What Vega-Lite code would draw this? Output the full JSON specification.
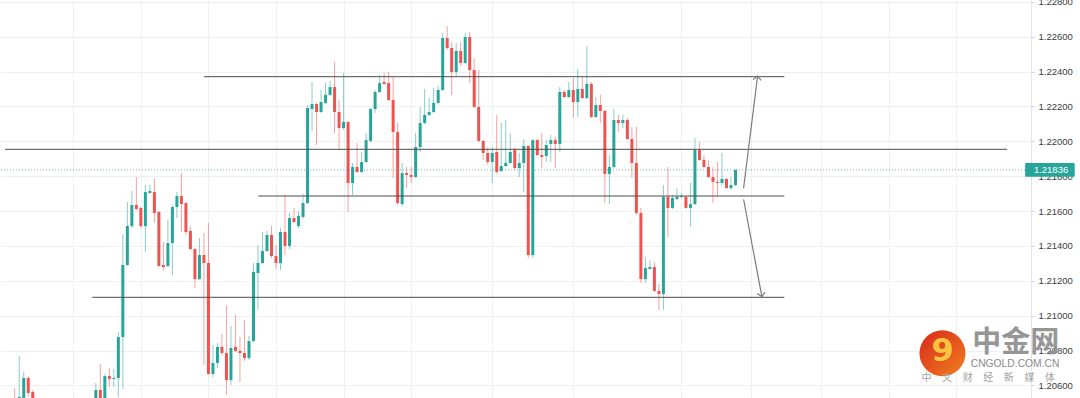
{
  "$schema": "https://vega.github.io/schema/vega-lite/v6.json",
  "width": 1031,
  "height": 398,
  "autosize": {"type": "none"},
  "padding": {"left": 0, "top": 0, "right": 49, "bottom": 0},
  "background": "white",
  "config": {
    "view": {"stroke": null},
    "axisX": {"grid": true, "gridColor": "#eef0f4", "gridWidth": 1, "labels": false, "ticks": false, "domain": false, "title": null},
    "axisY": {"grid": true, "gridColor": "#eef0f4", "labelFont": "Liberation Sans", "labelFontSize": 9.5, "labelColor": "#3b3b3b", "tickSize": 3, "tickColor": "#cfd2d9", "domain": true, "domainColor": "#e0e3eb", "labelPadding": 4, "title": null}
  },
  "datasets": {
    "candles": [
      {"t":-20,"o":1.20459,"h":1.20517,"l":1.20448,"c":1.20494},
      {"t":-19,"o":1.20494,"h":1.20522,"l":1.20482,"c":1.20517},
      {"t":-18,"o":1.20522,"h":1.20585,"l":1.20459,"c":1.20488},
      {"t":-17,"o":1.20459,"h":1.20769,"l":1.20448,"c":1.20534},
      {"t":-16,"o":1.20528,"h":1.20677,"l":1.20517,"c":1.20643},
      {"t":-15,"o":1.20643,"h":1.20654,"l":1.20534,"c":1.20557},
      {"t":-14,"o":1.20562,"h":1.20574,"l":1.20488,"c":1.20505},
      {"t":-13,"o":1.20505,"h":1.20517,"l":1.20448,"c":1.20471},
      {"t":-12,"o":1.20471,"h":1.20511,"l":1.20442,"c":1.20494},
      {"t":-11,"o":1.20494,"h":1.20505,"l":1.20431,"c":1.20459},
      {"t":-10,"o":1.20459,"h":1.20488,"l":1.20414,"c":1.20436},
      {"t":-9,"o":1.20436,"h":1.20499,"l":1.20425,"c":1.20482},
      {"t":-8,"o":1.20482,"h":1.20517,"l":1.20465,"c":1.20499},
      {"t":-7,"o":1.20499,"h":1.20511,"l":1.20448,"c":1.20465},
      {"t":-6,"o":1.20465,"h":1.20505,"l":1.20454,"c":1.20488},
      {"t":-5,"o":1.20488,"h":1.20522,"l":1.20471,"c":1.20511},
      {"t":-4,"o":1.20511,"h":1.20517,"l":1.20459,"c":1.20482},
      {"t":-3,"o":1.20482,"h":1.20522,"l":1.20471,"c":1.20505},
      {"t":-2,"o":1.20505,"h":1.20522,"l":1.20465,"c":1.20488},
      {"t":-1,"o":1.20488,"h":1.20522,"l":1.20476,"c":1.20517},
      {"t":0,"o":1.20522,"h":1.20614,"l":1.20517,"c":1.20574},
      {"t":1,"o":1.20574,"h":1.20723,"l":1.20511,"c":1.20522},
      {"t":2,"o":1.20528,"h":1.20666,"l":1.20517,"c":1.20654},
      {"t":3,"o":1.20654,"h":1.20700,"l":1.20591,"c":1.20637},
      {"t":4,"o":1.20637,"h":1.20694,"l":1.20591,"c":1.20643},
      {"t":5,"o":1.20643,"h":1.20907,"l":1.20534,"c":1.20878},
      {"t":6,"o":1.20878,"h":1.21468,"l":1.20580,"c":1.21291},
      {"t":7,"o":1.21291,"h":1.21652,"l":1.21285,"c":1.21514},
      {"t":8,"o":1.21514,"h":1.21715,"l":1.21503,"c":1.21635},
      {"t":9,"o":1.21635,"h":1.21795,"l":1.21606,"c":1.21612},
      {"t":10,"o":1.21618,"h":1.21623,"l":1.21503,"c":1.21514},
      {"t":11,"o":1.21514,"h":1.21749,"l":1.21365,"c":1.21709},
      {"t":12,"o":1.21704,"h":1.21749,"l":1.21698,"c":1.21715},
      {"t":13,"o":1.21709,"h":1.21784,"l":1.21532,"c":1.21589},
      {"t":14,"o":1.21595,"h":1.21600,"l":1.21279,"c":1.21285},
      {"t":15,"o":1.21291,"h":1.21423,"l":1.21262,"c":1.21279},
      {"t":16,"o":1.21285,"h":1.21549,"l":1.21279,"c":1.21417},
      {"t":17,"o":1.21417,"h":1.21635,"l":1.21233,"c":1.21623},
      {"t":18,"o":1.21623,"h":1.21709,"l":1.21560,"c":1.21686},
      {"t":19,"o":1.21686,"h":1.21818,"l":1.21480,"c":1.21640},
      {"t":20,"o":1.21646,"h":1.21652,"l":1.21463,"c":1.21480},
      {"t":21,"o":1.21486,"h":1.21514,"l":1.21377,"c":1.21382},
      {"t":22,"o":1.21382,"h":1.21388,"l":1.21159,"c":1.21210},
      {"t":23,"o":1.21210,"h":1.21445,"l":1.21205,"c":1.21348},
      {"t":24,"o":1.21348,"h":1.21474,"l":1.20717,"c":1.21302},
      {"t":25,"o":1.21302,"h":1.21532,"l":1.20660,"c":1.20666},
      {"t":26,"o":1.20666,"h":1.20832,"l":1.20648,"c":1.20729},
      {"t":27,"o":1.20729,"h":1.20843,"l":1.20700,"c":1.20821},
      {"t":28,"o":1.20821,"h":1.20895,"l":1.20775,"c":1.20786},
      {"t":29,"o":1.20786,"h":1.21061,"l":1.20545,"c":1.20631},
      {"t":30,"o":1.20631,"h":1.20941,"l":1.20603,"c":1.20815},
      {"t":31,"o":1.20821,"h":1.21004,"l":1.20792,"c":1.20798},
      {"t":32,"o":1.20798,"h":1.20878,"l":1.20620,"c":1.20786},
      {"t":33,"o":1.20786,"h":1.20975,"l":1.20740,"c":1.20757},
      {"t":34,"o":1.20757,"h":1.20884,"l":1.20746,"c":1.20855},
      {"t":35,"o":1.20855,"h":1.21302,"l":1.20849,"c":1.21251},
      {"t":36,"o":1.21245,"h":1.21405,"l":1.21033,"c":1.21302},
      {"t":37,"o":1.21302,"h":1.21480,"l":1.21296,"c":1.21371},
      {"t":38,"o":1.21371,"h":1.21486,"l":1.21365,"c":1.21463},
      {"t":39,"o":1.21463,"h":1.21514,"l":1.21331,"c":1.21342},
      {"t":40,"o":1.21342,"h":1.21405,"l":1.21268,"c":1.21302},
      {"t":41,"o":1.21302,"h":1.21503,"l":1.21262,"c":1.21480},
      {"t":42,"o":1.21480,"h":1.21692,"l":1.21348,"c":1.21400},
      {"t":43,"o":1.21400,"h":1.21589,"l":1.21382,"c":1.21560},
      {"t":44,"o":1.21560,"h":1.21618,"l":1.21532,"c":1.21537},
      {"t":45,"o":1.21514,"h":1.21600,"l":1.21503,"c":1.21572},
      {"t":46,"o":1.21566,"h":1.21698,"l":1.21554,"c":1.21646},
      {"t":47,"o":1.21646,"h":1.22208,"l":1.21640,"c":1.22191},
      {"t":48,"o":1.22185,"h":1.22340,"l":1.22059,"c":1.22214},
      {"t":49,"o":1.22214,"h":1.22220,"l":1.21979,"c":1.22168},
      {"t":50,"o":1.22168,"h":1.22294,"l":1.22162,"c":1.22225},
      {"t":51,"o":1.22220,"h":1.22334,"l":1.22214,"c":1.22266},
      {"t":52,"o":1.22266,"h":1.22346,"l":1.22260,"c":1.22311},
      {"t":53,"o":1.22311,"h":1.22455,"l":1.22048,"c":1.22168},
      {"t":54,"o":1.22168,"h":1.22237,"l":1.21950,"c":1.22076},
      {"t":55,"o":1.22076,"h":1.22392,"l":1.22065,"c":1.22111},
      {"t":56,"o":1.22111,"h":1.22116,"l":1.21595,"c":1.21761},
      {"t":57,"o":1.21761,"h":1.21876,"l":1.21692,"c":1.21853},
      {"t":58,"o":1.21853,"h":1.21990,"l":1.21818,"c":1.21824},
      {"t":59,"o":1.21824,"h":1.21939,"l":1.21818,"c":1.21881},
      {"t":60,"o":1.21881,"h":1.22048,"l":1.21876,"c":1.22007},
      {"t":61,"o":1.22002,"h":1.22191,"l":1.21996,"c":1.22185},
      {"t":62,"o":1.22185,"h":1.22294,"l":1.22162,"c":1.22283},
      {"t":63,"o":1.22283,"h":1.22380,"l":1.22277,"c":1.22334},
      {"t":64,"o":1.22340,"h":1.22392,"l":1.22323,"c":1.22329},
      {"t":65,"o":1.22334,"h":1.22397,"l":1.22231,"c":1.22237},
      {"t":66,"o":1.22237,"h":1.22369,"l":1.21790,"c":1.22053},
      {"t":67,"o":1.22053,"h":1.22105,"l":1.21635,"c":1.21646},
      {"t":68,"o":1.21640,"h":1.21876,"l":1.21629,"c":1.21818},
      {"t":69,"o":1.21818,"h":1.21853,"l":1.21732,"c":1.21807},
      {"t":70,"o":1.21807,"h":1.21853,"l":1.21761,"c":1.21795},
      {"t":71,"o":1.21795,"h":1.22048,"l":1.21790,"c":1.21967},
      {"t":72,"o":1.21967,"h":1.22197,"l":1.21939,"c":1.22105},
      {"t":73,"o":1.22105,"h":1.22300,"l":1.22099,"c":1.22151},
      {"t":74,"o":1.22151,"h":1.22248,"l":1.22145,"c":1.22168},
      {"t":75,"o":1.22168,"h":1.22306,"l":1.22162,"c":1.22220},
      {"t":76,"o":1.22220,"h":1.22317,"l":1.22214,"c":1.22294},
      {"t":77,"o":1.22294,"h":1.22621,"l":1.22288,"c":1.22592},
      {"t":78,"o":1.22592,"h":1.22661,"l":1.22524,"c":1.22535},
      {"t":79,"o":1.22535,"h":1.22569,"l":1.22266,"c":1.22397},
      {"t":80,"o":1.22397,"h":1.22564,"l":1.22374,"c":1.22518},
      {"t":81,"o":1.22518,"h":1.22569,"l":1.22432,"c":1.22449},
      {"t":82,"o":1.22449,"h":1.22621,"l":1.22443,"c":1.22598},
      {"t":83,"o":1.22598,"h":1.22627,"l":1.22334,"c":1.22409},
      {"t":84,"o":1.22409,"h":1.22478,"l":1.22191,"c":1.22197},
      {"t":85,"o":1.22197,"h":1.22409,"l":1.21996,"c":1.22002},
      {"t":86,"o":1.22002,"h":1.22007,"l":1.21893,"c":1.21933},
      {"t":87,"o":1.21933,"h":1.21967,"l":1.21864,"c":1.21881},
      {"t":88,"o":1.21881,"h":1.21967,"l":1.21761,"c":1.21933},
      {"t":89,"o":1.21939,"h":1.22151,"l":1.21813,"c":1.21824},
      {"t":90,"o":1.21830,"h":1.22105,"l":1.21824,"c":1.21858},
      {"t":91,"o":1.21858,"h":1.22122,"l":1.21853,"c":1.21876},
      {"t":92,"o":1.21876,"h":1.22048,"l":1.21870,"c":1.21939},
      {"t":93,"o":1.21950,"h":1.21962,"l":1.21835,"c":1.21847},
      {"t":94,"o":1.21847,"h":1.21933,"l":1.21795,"c":1.21876},
      {"t":95,"o":1.21876,"h":1.22013,"l":1.21709,"c":1.21973},
      {"t":96,"o":1.21973,"h":1.21978,"l":1.21331,"c":1.21348},
      {"t":97,"o":1.21348,"h":1.22013,"l":1.21331,"c":1.22007},
      {"t":98,"o":1.22007,"h":1.22013,"l":1.21916,"c":1.21921},
      {"t":99,"o":1.21921,"h":1.22048,"l":1.21847,"c":1.21910},
      {"t":100,"o":1.21916,"h":1.22007,"l":1.21881,"c":1.21979},
      {"t":101,"o":1.21985,"h":1.22036,"l":1.21881,"c":1.22007},
      {"t":102,"o":1.22007,"h":1.22025,"l":1.21847,"c":1.21985},
      {"t":103,"o":1.21985,"h":1.22311,"l":1.21939,"c":1.22283},
      {"t":104,"o":1.22283,"h":1.22294,"l":1.22248,"c":1.22254},
      {"t":105,"o":1.22254,"h":1.22340,"l":1.22248,"c":1.22294},
      {"t":106,"o":1.22294,"h":1.22363,"l":1.22134,"c":1.22225},
      {"t":107,"o":1.22225,"h":1.22415,"l":1.22139,"c":1.22300},
      {"t":108,"o":1.22300,"h":1.22369,"l":1.22243,"c":1.22248},
      {"t":109,"o":1.22248,"h":1.22546,"l":1.22243,"c":1.22329},
      {"t":110,"o":1.22329,"h":1.22340,"l":1.22134,"c":1.22139},
      {"t":111,"o":1.22139,"h":1.22254,"l":1.22134,"c":1.22208},
      {"t":112,"o":1.22208,"h":1.22266,"l":1.22105,"c":1.22174},
      {"t":113,"o":1.22174,"h":1.22180,"l":1.21646,"c":1.21813},
      {"t":114,"o":1.21813,"h":1.21921,"l":1.21640,"c":1.21853},
      {"t":115,"o":1.21853,"h":1.22185,"l":1.21847,"c":1.22122},
      {"t":116,"o":1.22122,"h":1.22151,"l":1.22053,"c":1.22105},
      {"t":117,"o":1.22105,"h":1.22151,"l":1.22076,"c":1.22122},
      {"t":118,"o":1.22122,"h":1.22134,"l":1.22007,"c":1.22013},
      {"t":119,"o":1.22013,"h":1.22082,"l":1.21790,"c":1.21876},
      {"t":120,"o":1.21876,"h":1.22082,"l":1.21577,"c":1.21589},
      {"t":121,"o":1.21589,"h":1.21618,"l":1.21187,"c":1.21210},
      {"t":122,"o":1.21210,"h":1.21337,"l":1.21187,"c":1.21274},
      {"t":123,"o":1.21268,"h":1.21319,"l":1.21262,"c":1.21279},
      {"t":124,"o":1.21279,"h":1.21308,"l":1.21136,"c":1.21142},
      {"t":125,"o":1.21142,"h":1.21182,"l":1.21033,"c":1.21124},
      {"t":126,"o":1.21124,"h":1.21749,"l":1.21033,"c":1.21681},
      {"t":127,"o":1.21681,"h":1.21853,"l":1.21451,"c":1.21618},
      {"t":128,"o":1.21618,"h":1.21692,"l":1.21612,"c":1.21675},
      {"t":129,"o":1.21669,"h":1.21732,"l":1.21663,"c":1.21681},
      {"t":130,"o":1.21681,"h":1.21704,"l":1.21675,"c":1.21686},
      {"t":131,"o":1.21681,"h":1.21686,"l":1.21612,"c":1.21618},
      {"t":132,"o":1.21618,"h":1.21761,"l":1.21509,"c":1.21640},
      {"t":133,"o":1.21640,"h":1.22019,"l":1.21635,"c":1.21950},
      {"t":134,"o":1.21950,"h":1.21996,"l":1.21887,"c":1.21893},
      {"t":135,"o":1.21893,"h":1.21921,"l":1.21847,"c":1.21853},
      {"t":136,"o":1.21853,"h":1.21893,"l":1.21790,"c":1.21795},
      {"t":137,"o":1.21795,"h":1.21853,"l":1.21646,"c":1.21767},
      {"t":138,"o":1.21767,"h":1.21881,"l":1.21681,"c":1.21761},
      {"t":139,"o":1.21761,"h":1.21933,"l":1.21749,"c":1.21784},
      {"t":140,"o":1.21784,"h":1.21790,"l":1.21727,"c":1.21732},
      {"t":141,"o":1.21732,"h":1.21795,"l":1.21721,"c":1.21749},
      {"t":142,"o":1.21749,"h":1.21838,"l":1.21744,"c":1.21836}
    ],
    "levels": [
      {"x1":24.03,"x2":152.85,"p":1.223704},
      {"x1":-20.16,"x2":202.3,"p":1.219541},
      {"x1":36.1,"x2":152.85,"p":1.216863},
      {"x1":-0.8,"x2":152.85,"p":1.211055}
    ],
    "arrows": [
      {"x1":143.8,"p1":1.217305,"x2":146.9,"p2":1.223744,"d":"up"},
      {"x1":143.8,"p1":1.216674,"x2":147.86,"p2":1.211089,"d":"down"}
    ],
    "sub": [
      {"t":184.39,"ch":"中"},{"t":188.96,"ch":"文"},{"t":193.54,"ch":"财"},{"t":198.11,"ch":"经"},
      {"t":202.68,"ch":"新"},{"t":207.25,"ch":"媒"},{"t":211.82,"ch":"体"}
    ]
  },
  "layer": [
    {
      "data": {"name": "candles"},
      "mark": {"type": "rule", "strokeWidth": 1, "opacity": 0.55, "clip": true},
      "encoding": {
        "x": {"field": "t", "type": "quantitative", "title": null, "scale": {"domain": [-20.16, 206.49], "nice": false, "zero": false},
          "axis": {"values": [-5, 10, 25, 40, 55, 70, 88, 106, 130, 145.5, 161, 176, 191]}},
        "y": {"field": "l", "type": "quantitative", "title": null, "scale": {"domain": [1.205281, 1.228102], "nice": false, "zero": false},
          "axis": {"orient": "right", "values": [1.206, 1.208, 1.21, 1.212, 1.214, 1.216, 1.218, 1.22, 1.222, 1.224, 1.226, 1.228], "format": ".5f"}},
        "y2": {"field": "h"},
        "color": {"condition": {"test": "datum.c >= datum.o", "value": "#26a69a"}, "value": "#ef5350"}
      }
    },
    {
      "data": {"name": "candles"},
      "mark": {"type": "bar", "width": 3, "clip": true},
      "encoding": {
        "x": {"field": "t", "type": "quantitative", "title": null, "scale": {"domain": [-20.16, 206.49], "nice": false, "zero": false},
          "axis": {"values": [-5, 10, 25, 40, 55, 70, 88, 106, 130, 145.5, 161, 176, 191]}},
        "y": {"field": "o", "type": "quantitative", "title": null, "scale": {"domain": [1.205281, 1.228102], "nice": false, "zero": false},
          "axis": {"orient": "right", "values": [1.206, 1.208, 1.21, 1.212, 1.214, 1.216, 1.218, 1.22, 1.222, 1.224, 1.226, 1.228], "format": ".5f"}},
        "y2": {"field": "c"},
        "color": {"condition": {"test": "datum.c >= datum.o", "value": "#26a69a"}, "value": "#ef5350"}
      }
    },
    {
      "data": {"values": [{"p": 1.21836}]},
      "mark": {"type": "rule", "color": "#26a69a", "strokeDash": [1, 2], "strokeWidth": 1, "opacity": 0.75},
      "encoding": {
        "y": {"field": "p", "type": "quantitative", "title": null, "scale": {"domain": [1.205281, 1.228102], "nice": false, "zero": false},
          "axis": {"orient": "right", "values": [1.206, 1.208, 1.21, 1.212, 1.214, 1.216, 1.218, 1.22, 1.222, 1.224, 1.226, 1.228], "format": ".5f"}}
      }
    },
    {
      "data": {"name": "levels"},
      "mark": {"type": "rule", "color": "#4d4d4d", "strokeWidth": 1, "clip": true},
      "encoding": {
        "x": {"field": "x1", "type": "quantitative", "title": null, "scale": {"domain": [-20.16, 206.49], "nice": false, "zero": false},
          "axis": {"values": [-5, 10, 25, 40, 55, 70, 88, 106, 130, 145.5, 161, 176, 191]}},
        "x2": {"field": "x2"},
        "y": {"field": "p", "type": "quantitative", "title": null, "scale": {"domain": [1.205281, 1.228102], "nice": false, "zero": false},
          "axis": {"orient": "right", "values": [1.206, 1.208, 1.21, 1.212, 1.214, 1.216, 1.218, 1.22, 1.222, 1.224, 1.226, 1.228], "format": ".5f"}}
      }
    },
    {
      "data": {"name": "arrows"},
      "mark": {"type": "rule", "color": "#7b7b7b", "strokeWidth": 1.2, "clip": true},
      "encoding": {
        "x": {"field": "x1", "type": "quantitative", "title": null, "scale": {"domain": [-20.16, 206.49], "nice": false, "zero": false},
          "axis": {"values": [-5, 10, 25, 40, 55, 70, 88, 106, 130, 145.5, 161, 176, 191]}},
        "x2": {"field": "x2"},
        "y": {"field": "p1", "type": "quantitative", "title": null, "scale": {"domain": [1.205281, 1.228102], "nice": false, "zero": false},
          "axis": {"orient": "right", "values": [1.206, 1.208, 1.21, 1.212, 1.214, 1.216, 1.218, 1.22, 1.222, 1.224, 1.226, 1.228], "format": ".5f"}},
        "y2": {"field": "p2"}
      }
    },
    {
      "data": {"name": "arrows"},
      "transform": [{"filter": "datum.d == 'up'"}],
      "mark": {"type": "point", "shape": "M-1,1L0,0L1,1", "filled": false, "stroke": "#7b7b7b", "strokeWidth": 1.2, "size": 64, "angle": 7, "opacity": 1},
      "encoding": {
        "x": {"field": "x2", "type": "quantitative", "title": null, "scale": {"domain": [-20.16, 206.49], "nice": false, "zero": false},
          "axis": {"values": [-5, 10, 25, 40, 55, 70, 88, 106, 130, 145.5, 161, 176, 191]}},
        "y": {"field": "p2", "type": "quantitative", "title": null, "scale": {"domain": [1.205281, 1.228102], "nice": false, "zero": false},
          "axis": {"orient": "right", "values": [1.206, 1.208, 1.21, 1.212, 1.214, 1.216, 1.218, 1.22, 1.222, 1.224, 1.226, 1.228], "format": ".5f"}}
      }
    },
    {
      "data": {"name": "arrows"},
      "transform": [{"filter": "datum.d == 'down'"}],
      "mark": {"type": "point", "shape": "M-1,-1L0,0L1,-1", "filled": false, "stroke": "#7b7b7b", "strokeWidth": 1.2, "size": 64, "angle": -10, "opacity": 1},
      "encoding": {
        "x": {"field": "x2", "type": "quantitative", "title": null, "scale": {"domain": [-20.16, 206.49], "nice": false, "zero": false},
          "axis": {"values": [-5, 10, 25, 40, 55, 70, 88, 106, 130, 145.5, 161, 176, 191]}},
        "y": {"field": "p2", "type": "quantitative", "title": null, "scale": {"domain": [1.205281, 1.228102], "nice": false, "zero": false},
          "axis": {"orient": "right", "values": [1.206, 1.208, 1.21, 1.212, 1.214, 1.216, 1.218, 1.22, 1.222, 1.224, 1.226, 1.228], "format": ".5f"}}
      }
    },
    {
      "data": {"values": [{"t": 187.95, "p": 1.207844}]},
      "mark": {"type": "point", "shape": "circle", "filled": true, "size": 2116, "opacity": 1,
        "fill": {"gradient": "linear", "x1": 0, "y1": 0, "x2": 1, "y2": 1, "stops": [{"offset": 0, "color": "#d9281c"}, {"offset": 1, "color": "#f0801e"}]}},
      "encoding": {
        "x": {"field": "t", "type": "quantitative", "title": null, "scale": {"domain": [-20.16, 206.49], "nice": false, "zero": false},
          "axis": {"values": [-5, 10, 25, 40, 55, 70, 88, 106, 130, 145.5, 161, 176, 191]}},
        "y": {"field": "p", "type": "quantitative", "title": null, "scale": {"domain": [1.205281, 1.228102], "nice": false, "zero": false},
          "axis": {"orient": "right", "values": [1.206, 1.208, 1.21, 1.212, 1.214, 1.216, 1.218, 1.22, 1.222, 1.224, 1.226, 1.228], "format": ".5f"}}
      }
    },
    {
      "data": {"values": [{"t": 188.0, "p": 1.20795, "s": "9"}]},
      "mark": {"type": "text", "font": "DejaVu Sans", "fontWeight": "bold", "fontSize": 32, "color": "#f9c540", "align": "center", "baseline": "middle"},
      "encoding": {
        "x": {"field": "t", "type": "quantitative", "title": null, "scale": {"domain": [-20.16, 206.49], "nice": false, "zero": false},
          "axis": {"values": [-5, 10, 25, 40, 55, 70, 88, 106, 130, 145.5, 161, 176, 191]}},
        "y": {"field": "p", "type": "quantitative", "title": null, "scale": {"domain": [1.205281, 1.228102], "nice": false, "zero": false},
          "axis": {"orient": "right", "values": [1.206, 1.208, 1.21, 1.212, 1.214, 1.216, 1.218, 1.22, 1.222, 1.224, 1.226, 1.228], "format": ".5f"}},
        "text": {"field": "s"}
      }
    },
    {
      "data": {"values": [{"t": 204.24, "p": 1.20845, "s": "中金网"}]},
      "mark": {"type": "text", "font": "Noto Sans CJK SC", "fontWeight": "bold", "fontSize": 29, "color": "#8e8e8e", "opacity": 0.92, "align": "center", "baseline": "middle"},
      "encoding": {
        "x": {"field": "t", "type": "quantitative", "title": null, "scale": {"domain": [-20.16, 206.49], "nice": false, "zero": false},
          "axis": {"values": [-5, 10, 25, 40, 55, 70, 88, 106, 130, 145.5, 161, 176, 191]}},
        "y": {"field": "p", "type": "quantitative", "title": null, "scale": {"domain": [1.205281, 1.228102], "nice": false, "zero": false},
          "axis": {"orient": "right", "values": [1.206, 1.208, 1.21, 1.212, 1.214, 1.216, 1.218, 1.22, 1.222, 1.224, 1.226, 1.228], "format": ".5f"}},
        "text": {"field": "s"}
      }
    },
    {
      "data": {"values": [{"t": 204.06, "p": 1.20724, "s": "CNGOLD.COM.CN"}]},
      "mark": {"type": "text", "font": "Liberation Sans", "fontSize": 10.3, "color": "#8a8a8a", "align": "center", "baseline": "middle"},
      "encoding": {
        "x": {"field": "t", "type": "quantitative", "title": null, "scale": {"domain": [-20.16, 206.49], "nice": false, "zero": false},
          "axis": {"values": [-5, 10, 25, 40, 55, 70, 88, 106, 130, 145.5, 161, 176, 191]}},
        "y": {"field": "p", "type": "quantitative", "title": null, "scale": {"domain": [1.205281, 1.228102], "nice": false, "zero": false},
          "axis": {"orient": "right", "values": [1.206, 1.208, 1.21, 1.212, 1.214, 1.216, 1.218, 1.22, 1.222, 1.224, 1.226, 1.228], "format": ".5f"}},
        "text": {"field": "s"}
      }
    },
    {
      "data": {"name": "sub"},
      "mark": {"type": "text", "font": "Noto Sans CJK SC", "fontSize": 10, "color": "#a3a3a3", "align": "center", "baseline": "middle"},
      "encoding": {
        "x": {"field": "t", "type": "quantitative", "title": null, "scale": {"domain": [-20.16, 206.49], "nice": false, "zero": false},
          "axis": {"values": [-5, 10, 25, 40, 55, 70, 88, 106, 130, 145.5, 161, 176, 191]}},
        "y": {"datum": 1.20641, "type": "quantitative", "title": null, "scale": {"domain": [1.205281, 1.228102], "nice": false, "zero": false},
          "axis": {"orient": "right", "values": [1.206, 1.208, 1.21, 1.212, 1.214, 1.216, 1.218, 1.22, 1.222, 1.224, 1.226, 1.228], "format": ".5f"}},
        "text": {"field": "ch"}
      }
    },
    {
      "data": {"values": [{"x1": 206.3, "x2": 217.3, "p1": 1.21876, "p2": 1.21797}]},
      "mark": {"type": "rect", "color": "#26a69a", "cornerRadius": 1},
      "encoding": {
        "x": {"field": "x1", "type": "quantitative", "title": null, "scale": {"domain": [-20.16, 206.49], "nice": false, "zero": false},
          "axis": {"values": [-5, 10, 25, 40, 55, 70, 88, 106, 130, 145.5, 161, 176, 191]}},
        "x2": {"field": "x2"},
        "y": {"field": "p1", "type": "quantitative", "title": null, "scale": {"domain": [1.205281, 1.228102], "nice": false, "zero": false},
          "axis": {"orient": "right", "values": [1.206, 1.208, 1.21, 1.212, 1.214, 1.216, 1.218, 1.22, 1.222, 1.224, 1.226, 1.228], "format": ".5f"}},
        "y2": {"field": "p2"}
      }
    },
    {
      "data": {"values": [{"t": 208.24, "p": 1.21836, "s": "1.21836"}]},
      "mark": {"type": "text", "font": "Liberation Sans", "fontSize": 9.5, "color": "white", "align": "left", "baseline": "middle"},
      "encoding": {
        "x": {"field": "t", "type": "quantitative", "title": null, "scale": {"domain": [-20.16, 206.49], "nice": false, "zero": false},
          "axis": {"values": [-5, 10, 25, 40, 55, 70, 88, 106, 130, 145.5, 161, 176, 191]}},
        "y": {"field": "p", "type": "quantitative", "title": null, "scale": {"domain": [1.205281, 1.228102], "nice": false, "zero": false},
          "axis": {"orient": "right", "values": [1.206, 1.208, 1.21, 1.212, 1.214, 1.216, 1.218, 1.22, 1.222, 1.224, 1.226, 1.228], "format": ".5f"}},
        "text": {"field": "s"}
      }
    }
  ]
}
